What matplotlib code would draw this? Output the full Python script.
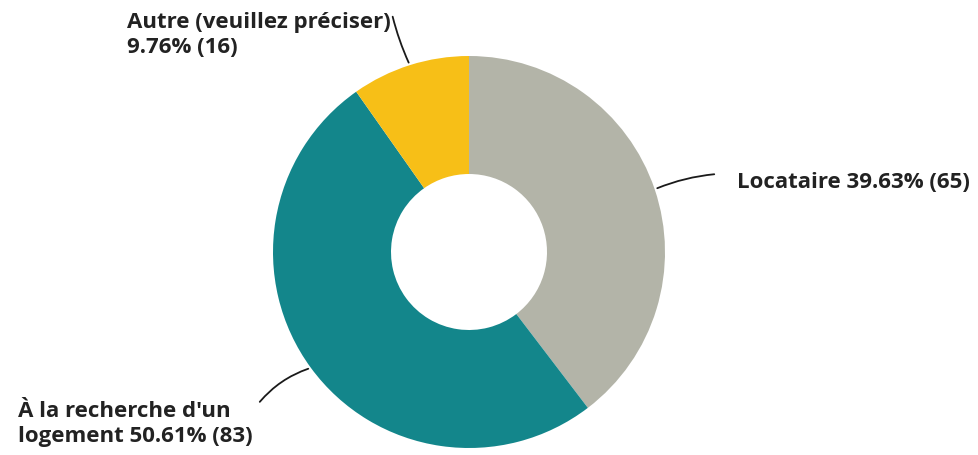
import numpy as np
import matplotlib.pyplot as plt

# Data
labels = ["Locataire", "À la recherche d'un\nlogement", "Autre (veuillez préciser)\n"]
pcts = [39.63, 50.61, 9.76]
counts = [65, 83, 16]
colors = ["#B3B4A8", "#13868B", "#F7BF17"]

W, H = 979, 456
fig = plt.figure(figsize=(W / 100, H / 100), dpi=100)
ax = fig.add_axes([0, 0, 1, 1])

cx, cy, R = 469, H - 253, 196
wedges, _ = ax.pie(pcts, colors=colors, startangle=90, counterclock=False,
                   center=(cx, cy), radius=R, frame=True,
                   wedgeprops=dict(width=R - 78, linewidth=0))
ax.set_xlim(0, W)
ax.set_ylim(0, H)
ax.axis("off")

# label text positions (pixels, y from top) and leader line ends
text_pos = [(737, 183), (18, 424), (127, 35)]
line_end = [(717, 175), (258, 405), (392, 15)]
rads = [0.08, -0.15, 0.05]

for w, lab, p, n, tp, le, rad in zip(wedges, labels, pcts, counts, text_pos, line_end, rads):
    ang = np.deg2rad((w.theta1 + w.theta2) / 2)
    px = cx + R * np.cos(ang)
    py = cy + R * np.sin(ang)
    if lab.endswith("\n"):
        txt = lab + f"{p:.2f}% ({n})"
    elif "\n" in lab:
        txt = lab + f" {p:.2f}% ({n})"
    else:
        txt = f"{lab} {p:.2f}% ({n})"
    ax.annotate("", xy=(px, py), xytext=(le[0], H - le[1]),
                arrowprops=dict(arrowstyle="-", color="#1a1a1a", lw=1.3,
                                connectionstyle=f"arc3,rad={rad}"))
    ax.text(tp[0], H - tp[1], txt, ha="left", va="center", fontsize=16,
            fontweight="bold", family="Open Sans", color="#222222", linespacing=1.25)

fig.savefig("out.png", dpi=100)
